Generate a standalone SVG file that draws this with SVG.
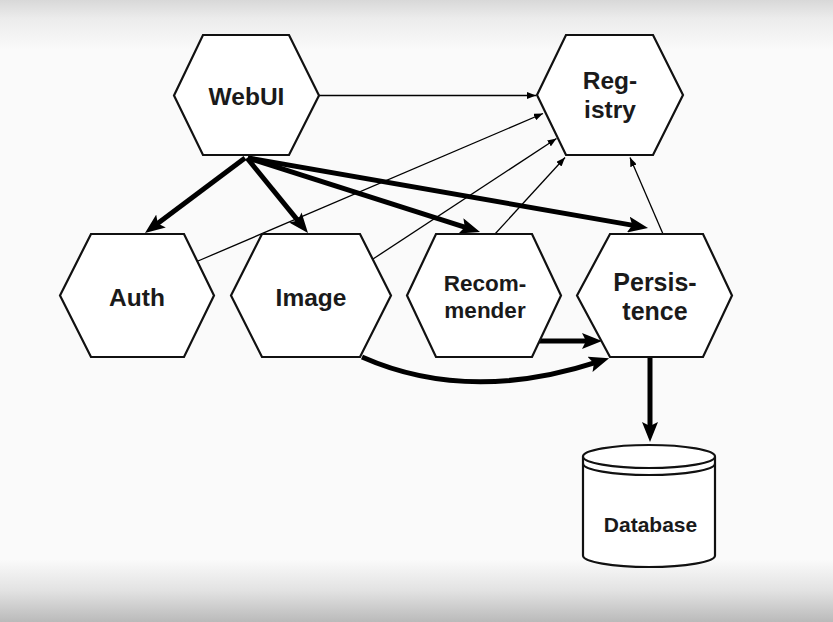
<svg xmlns="http://www.w3.org/2000/svg" width="833" height="622" viewBox="0 0 833 622">
<defs>
<linearGradient id="bg" x1="0" y1="0" x2="0" y2="1">
<stop offset="0" stop-color="#d8d8d8"/>
<stop offset="0.03" stop-color="#ececec"/>
<stop offset="0.08" stop-color="#fafafa"/>
<stop offset="0.9" stop-color="#fafafa"/>
<stop offset="0.95" stop-color="#e2e2e2"/>
<stop offset="1" stop-color="#bababa"/>
</linearGradient>
<marker id="thick" viewBox="0 0 20 16" markerWidth="20" markerHeight="16" refX="8" refY="8" orient="auto" markerUnits="userSpaceOnUse">
<path d="M0,0 L20,8 L0,16 L4,8 z" fill="#000"/>
</marker>
<marker id="thin" viewBox="0 0 9 7" markerWidth="9" markerHeight="7" refX="9" refY="3.5" orient="auto" markerUnits="userSpaceOnUse">
<path d="M0,0 L9,3.5 L0,7 z" fill="#000"/>
</marker>
</defs>
<style>
.hex{fill:#fff;stroke:#111;stroke-width:2.2;stroke-linejoin:miter}
.lbl{font-family:"Liberation Sans",Arial,sans-serif;font-weight:bold;fill:#1a1a1a;text-anchor:middle}
.t{fill:none;stroke:#000;stroke-width:1.3;marker-end:url(#thin)}
.k{fill:none;stroke:#000;stroke-width:5;marker-end:url(#thick)}
</style>
<rect x="0" y="0" width="833" height="622" fill="url(#bg)"/>
<g id="connectors">
<line class="t" x1="319" y1="95.5" x2="536" y2="95.5"/>
<line class="t" x1="198" y1="261" x2="543" y2="113.5"/>
<line class="t" x1="373" y1="259" x2="556.5" y2="138.5"/>
<line class="t" x1="495" y1="234" x2="565" y2="157.5"/>
<line class="t" x1="663" y1="234" x2="630" y2="157.5"/>
<line class="k" x1="245" y1="158" x2="154.6" y2="225.8"/>
<line class="k" x1="247" y1="158" x2="300.4" y2="223.7"/>
<line class="k" x1="248" y1="158" x2="468.6" y2="228.4"/>
<line class="k" x1="248" y1="158" x2="636.2" y2="225.9"/>
<line class="k" x1="539" y1="341" x2="590" y2="341"/>
<path class="k" d="M362,357 Q468,404 597.7,361.9"/>
<line class="k" x1="650" y1="357" x2="650" y2="430"/>
</g>
<g id="webui">
<polygon class="hex" points="174,95.5 203,35 289,35 319,95.5 289,155 203,155"/>
<text class="lbl" x="246.5" y="105" font-size="24.5">WebUI</text>
</g>
<g id="registry">
<polygon class="hex" points="537,95 566,35 653,35 683,95 653,155 566,155"/>
<text class="lbl" x="610" y="89" font-size="24.5">Reg-</text>
<text class="lbl" x="610" y="118.3" font-size="24.5">istry</text>
</g>
<g id="auth">
<polygon class="hex" points="60,295.5 91,234 184,234 214,295.5 184,357 91,357"/>
<text class="lbl" x="137" y="305.7" font-size="24.5">Auth</text>
</g>
<g id="image">
<polygon class="hex" points="231,295.5 262,234 360,234 391,295.5 360,357 262,357"/>
<text class="lbl" x="311" y="305.7" font-size="24.5">Image</text>
</g>
<g id="recommender">
<polygon class="hex" points="407,295.5 436,234 532,234 561,295.5 532,357 436,357"/>
<text class="lbl" x="485" y="291" font-size="22.5">Recom-</text>
<text class="lbl" x="485" y="318.3" font-size="22.5">mender</text>
</g>
<g id="persistence">
<polygon class="hex" points="577,295.5 610,234 703,234 732,295.5 703,357 610,357"/>
<text class="lbl" x="655" y="291" font-size="25">Persis-</text>
<text class="lbl" x="655" y="320" font-size="25">tence</text>
</g>
<g id="database">
<path class="hex" d="M583,456.5 L583,555.5 A66,11.5 0 0 0 715,555.5 L715,456.5"/>
<ellipse class="hex" cx="649" cy="456.5" rx="66" ry="11.5"/>
<path d="M583,463.5 A66,11.5 0 0 0 715,463.5" fill="none" stroke="#111" stroke-width="2.2"/>
<text class="lbl" x="650.5" y="531.7" font-size="21">Database</text>
</g>
</svg>
